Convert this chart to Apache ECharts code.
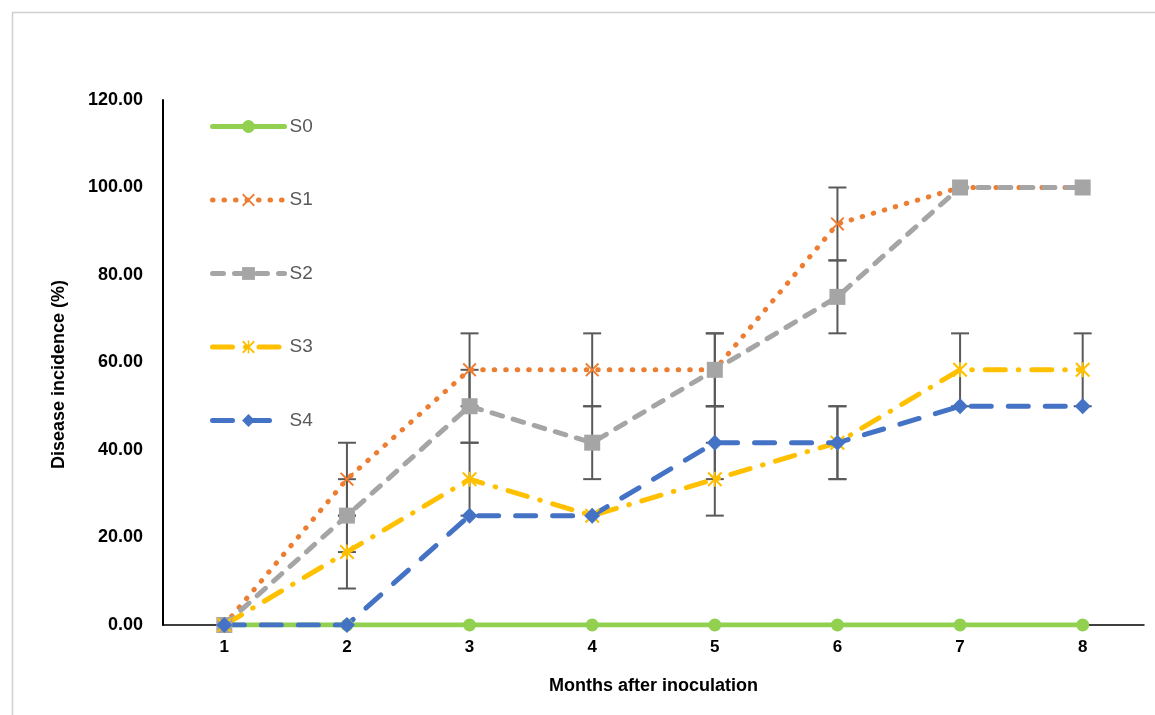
<!DOCTYPE html>
<html>
<head>
<meta charset="utf-8">
<script src="https://cdn.jsdelivr.net/npm/echarts@6/dist/echarts.min.js"></script>
<style>
html,body{margin:0;padding:0;background:#fff;}
#chart{width:1155px;height:715px;}
</style>
</head>
<body>
<div id="chart"></div>
<script>
const months = ['1','2','3','4','5','6','7','8'];
const s0 = [0, 0, 0, 0, 0, 0, 0, 0];
const s1 = [0, 33.33, 58.33, 58.33, 58.33, 91.67, 100, 100];
const s2 = [0, 25, 50, 41.67, 58.33, 75, 100, 100];
const s3 = [0, 16.67, 33.33, 25, 33.33, 41.67, 58.33, 58.33];
const s4 = [0, 0, 25, 25, 41.67, 41.67, 50, 50];
const e1 = [0, 8.33, 8.33, 8.33, 8.33, 8.33, 0, 0];
const e2 = [0, 8.33, 8.33, 8.33, 8.33, 8.33, 0, 0];
const e3 = [0, 8.33, 8.33, 0, 8.33, 8.33, 8.33, 8.33];
const e4 = [0, 0, 0, 0, 8.33, 8.33, 0, 0];
const yTicks = [0, 20, 40, 60, 80, 100, 120];

const FONT = '"Liberation Sans", Arial, sans-serif';
const X_PATH = 'path://M0,1 L1,0 L5,4 L9,0 L10,1 L6,5 L10,9 L9,10 L5,6 L1,10 L0,9 L4,5 Z';
const STAR_PATH = 'path://M0,1 L1,0 L5,4 L9,0 L10,1 L6,5 L10,9 L9,10 L5,6 L1,10 L0,9 L4,5 Z M4.4,0 L5.6,0 L5.6,10 L4.4,10 Z';

function errData(vals, errs) {
  const out = [];
  vals.forEach((v, i) => { if (errs[i] > 0) out.push([i, v - errs[i], v + errs[i]]); });
  return out;
}
const errAll = [].concat(errData(s1, e1), errData(s2, e2), errData(s3, e3), errData(s4, e4));

const styles = {
  S0: { color: '#92D050', dash: 'solid', symbol: 'circle', size: 13 },
  S1: { color: '#ED7D31', dash: [0.5, 11], symbol: X_PATH, size: 14 },
  S2: { color: '#A5A5A5', dash: [11, 11], symbol: 'rect', size: 16 },
  S3: { color: '#FFC000', dash: [20, 13, 0.5, 13], symbol: STAR_PATH, size: 15 },
  S4: { color: '#4472C4', dash: [20, 17], symbol: 'diamond', size: 16 }
};
const seriesData = { S0: s0, S1: s1, S2: s2, S3: s3, S4: s4 };

const chart = echarts.init(document.getElementById('chart'));
const lines = Object.keys(styles).map(name => {
  const s = styles[name];
  return {
    name, type: 'line', data: seriesData[name], z: 3,
    symbol: s.symbol, symbolSize: s.size, showSymbol: true,
    lineStyle: { color: s.color, width: 5, type: s.dash, cap: 'round', join: 'round' },
    itemStyle: { color: s.color },
    emphasis: { disabled: true }
  };
});
const legendData = Object.keys(styles).map(name => {
  const s = styles[name];
  return { name, lineStyle: { width: 5, color: s.color, type: s.dash, cap: 'round' },
    itemStyle: { color: s.color } };
});

chart.setOption({
  backgroundColor: '#fff',
  animation: false,
  graphic: [{
    type: 'rect', left: 10, top: 10,
    shape: { width: 1160, height: 720 },
    style: { fill: 'none', stroke: '#d0d0d0', lineWidth: 1.5 },
    silent: true
  }],
  grid: { left: 163, right: 11, top: 100, bottom: 90 },
  legend: {
    orient: 'vertical', left: 205, top: 112,
    itemWidth: 72, itemHeight: 16, itemGap: 54.5,
    textStyle: { color: '#595959', fontSize: 19, fontFamily: FONT },
    data: legendData
  },
  xAxis: {
    type: 'category', data: months, boundaryGap: true,
    name: 'Months after inoculation', nameLocation: 'middle', nameGap: 52,
    nameTextStyle: { color: '#000', fontSize: 18, fontWeight: 'bold', fontFamily: FONT },
    axisLine: { lineStyle: { color: '#000', width: 1.5 } },
    axisTick: { show: false },
    axisLabel: { color: '#000', fontSize: 17, fontWeight: 'bold', fontFamily: FONT, margin: 14 }
  },
  yAxis: {
    type: 'value', min: yTicks[0], max: yTicks[yTicks.length - 1], interval: 20,
    name: 'Disease incidence (%)', nameLocation: 'middle', nameGap: 95,
    nameTextStyle: { color: '#000', fontSize: 18, fontWeight: 'bold', fontFamily: FONT, padding: [0, 24, 0, 0] },
    axisLine: { show: true, lineStyle: { color: '#000', width: 2 } },
    axisTick: { show: false },
    splitLine: { show: false },
    axisLabel: { color: '#000', fontSize: 18, fontWeight: 'bold', fontFamily: FONT, margin: 20,
      formatter: v => v.toFixed(2) }
  },
  series: lines.concat([{
    name: 'err', type: 'custom', data: errAll, z: 2, silent: true,
    renderItem: function (params, api) {
      const x = api.value(0);
      const lo = api.coord([x, api.value(1)]);
      const hi = api.coord([x, api.value(2)]);
      const w = 9;
      const st = { stroke: '#595959', lineWidth: 2, fill: 'none' };
      return { type: 'group', children: [
        { type: 'line', shape: { x1: lo[0], y1: lo[1], x2: hi[0], y2: hi[1] }, style: st },
        { type: 'line', shape: { x1: lo[0] - w, y1: lo[1], x2: lo[0] + w, y2: lo[1] }, style: st },
        { type: 'line', shape: { x1: hi[0] - w, y1: hi[1], x2: hi[0] + w, y2: hi[1] }, style: st }
      ]};
    },
    encode: { x: 0, y: [1, 2] }
  }])
});
</script>
</body>
</html>
